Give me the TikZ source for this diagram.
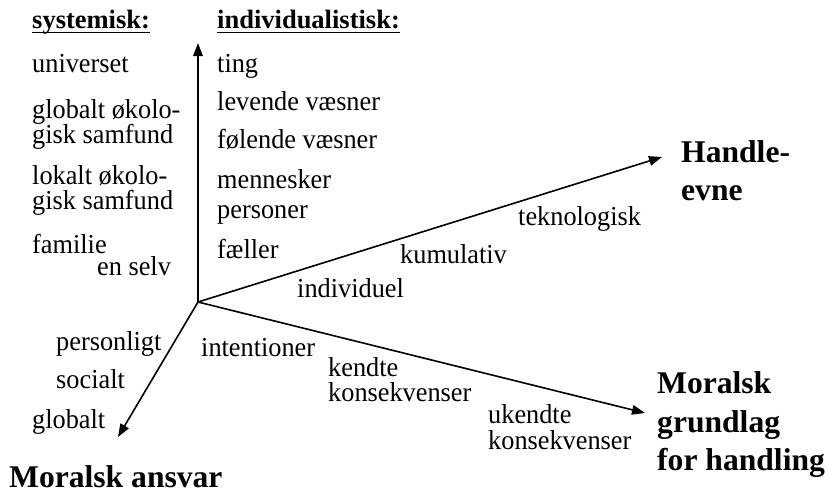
\documentclass[tikz,border=0pt]{standalone}
\usepackage{fontspec}
\setmainfont{Liberation Serif}
\newfontfamily\tallserif[FakeStretch=0.96]{Liberation Serif}
\usetikzlibrary{arrows.meta}
\begin{document}
\begin{tikzpicture}[x=1pt,y=-1pt,
  lbl/.style={anchor=base west, inner sep=0pt, font=\tallserif\fontsize{27.4}{25}\selectfont},
  big/.style={anchor=base west, inner sep=0pt, font=\fontsize{31.6}{38}\selectfont\bfseries},
  head/.style={anchor=base west, inner sep=0pt, font=\fontsize{26.5}{30}\selectfont\bfseries},
  axis/.style={line width=1.6pt, -{Triangle[length=13pt,width=9.5pt]}},
  ul/.style={line width=1.4pt}]
\useasboundingbox (0,0) rectangle (829,493);

% axes
\coordinate (O) at (198,302);
\coordinate (eUp) at (198,43);
\coordinate (eHand) at (662,157);
\coordinate (eGrund) at (645,413);
\coordinate (eAnsvar) at (118,437);
\draw[axis] (O) -- (eUp);
\draw[axis] (O) -- (eHand);
\draw[axis] (O) -- (eGrund);
\draw[axis] (O) -- (eAnsvar);

% headings
\node[head] (hsys) at (32,28) {systemisk:};
\node[head] (hind) at (217,28) {individualistisk:};
\draw[ul] ([yshift=-4.5pt]hsys.base west) -- ([yshift=-4.5pt]hsys.base east);
\draw[ul] ([yshift=-4.5pt]hind.base west) -- ([yshift=-4.5pt]hind.base east);

% systemic column
\node[lbl] (s1) at (32,72) {universet};
\node[lbl] (s2a) at (32,118) {globalt økolo-};
\node[lbl] (s2b) at (32,143) {gisk samfund};
\node[lbl] (s3a) at (32,184) {lokalt økolo-};
\node[lbl] (s3b) at (32,209) {gisk samfund};
\node[lbl] (s4) at (32,253) {familie};
\node[lbl] (s5) at (97,275) {en selv};

% individualistic column
\node[lbl] (i1) at (217,72) {ting};
\node[lbl] (i2) at (217,110) {levende væsner};
\node[lbl] (i3) at (217,148) {følende væsner};
\node[lbl] (i4) at (217,188) {mennesker};
\node[lbl] (i5) at (217,218) {personer};
\node[lbl] (i6) at (217,258) {fæller};

% handleevne axis
\node[lbl] (h1) at (297,297) {individuel};
\node[lbl] (h2) at (400,263) {kumulativ};
\node[lbl] (h3) at (518,225) {teknologisk};
\node[big] (hT1) at (681,162) {Handle-};
\node[big] (hT2) at (681,200) {evne};

% grundlag axis
\node[lbl] (g1) at (201,356) {intentioner};
\node[lbl] (g2a) at (328,376) {kendte};
\node[lbl] (g2b) at (328,401) {konsekvenser};
\node[lbl] (g3a) at (488,423) {ukendte};
\node[lbl] (g3b) at (488,449) {konsekvenser};
\node[big] (gT1) at (657,393) {Moralsk};
\node[big] (gT2) at (657,432) {grundlag};
\node[big] (gT3) at (657,470) {for handling};

% ansvar axis
\node[lbl] (a1) at (56,350) {personligt};
\node[lbl] (a2) at (56,388) {socialt};
\node[lbl] (a3) at (32,428) {globalt};
\node[big] (aT) at (9,487) {Moralsk ansvar};
\end{tikzpicture}
\end{document}
